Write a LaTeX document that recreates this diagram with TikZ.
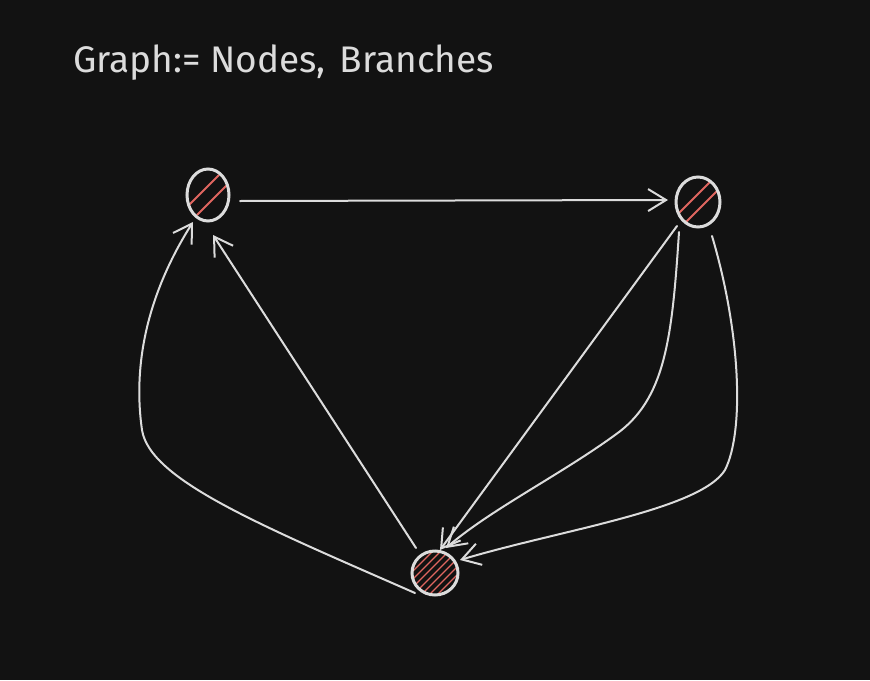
\documentclass[tikz,border=0pt]{standalone}
\usepackage{fontspec}
\setmainfont{Fira Sans}
\usetikzlibrary{arrows.meta,calc,shapes.geometric}
\definecolor{bg}{HTML}{121212}
\definecolor{ink}{HTML}{DCDCDC}
\definecolor{hatch}{HTML}{E06660}
\tikzset{
  vert/.style={draw=ink, line width=3pt, ellipse, inner sep=0pt},
  conn/.style={draw=ink, line width=2pt, line cap=round, -{Straight Barb[length=18pt,width=22pt,line width=2pt]}},
  hatchline/.style={draw=hatch, line width=1.8pt, line cap=round},
}
\begin{document}
\begin{tikzpicture}[x=1pt,y=-1pt]
\fill[bg] (0,0) rectangle (870,680);
\useasboundingbox (0,0) rectangle (870,680);

\node[anchor=west, text=ink, inner sep=0pt, font=\fontsize{37}{40}\selectfont] (title) at (73,63) {Graph:= Nodes,\hspace{14pt}Branches};

% node A
\begin{scope}
\clip (208,195) ellipse [x radius=20, y radius=26];
\foreach \d in {-9,9} {\draw[hatchline] ($(208,195)+(\d,0)+(-20,20)$) -- ++(40,-40);}
\end{scope}
\node[vert, minimum width=42pt, minimum height=52pt] (A) at (208,195) {};

% node B
\begin{scope}
\clip (698,202) ellipse [x radius=21, y radius=24];
\foreach \d in {-8,8} {\draw[hatchline] ($(698,202)+(\d,0)+(-20,20)$) -- ++(40,-40);}
\end{scope}
\node[vert, minimum width=44pt, minimum height=50pt] (B) at (698,202) {};

% node C
\begin{scope}
\clip (435,573) ellipse [x radius=23, y radius=22];
\foreach \d in {-24,-16,-8,0,8,16,24} {\draw[hatchline, line width=1.2pt] ($(435,573)+(\d,0)+(-25,25)$) -- ++(50,-50);}
\end{scope}
\node[vert, minimum width=46pt, minimum height=44pt] (C) at (435,573) {};

% connectors
\coordinate (a1) at (240,201);
\coordinate (b1) at (668,200);
\draw[conn] (a1) -- (b1);

\coordinate (c1) at (416,548);
\coordinate (a2) at (213,235);
\draw[conn] (c1) -- (a2);

\coordinate (c2) at (415,593);
\coordinate (a3) at (193,222);
\draw[conn] (c2) .. controls (260,525) and (150,480) .. (142,430) .. controls (132,360) and (150,290) .. (a3);

\coordinate (b2) at (677,226);
\coordinate (c3) at (440,550);
\draw[conn] (b2) -- (c3);

\coordinate (b3) at (679,232);
\coordinate (c4) at (446,548);
\draw[conn] (b3) .. controls (672,340) and (665,400) .. (615,435) .. controls (560,475) and (490,510) .. (c4);

\coordinate (b4) at (712,236);
\coordinate (c5) at (460,560);
\draw[conn] (b4) .. controls (740,330) and (745,430) .. (725,470) .. controls (700,510) and (560,530) .. (c5);
\end{tikzpicture}
\end{document}
